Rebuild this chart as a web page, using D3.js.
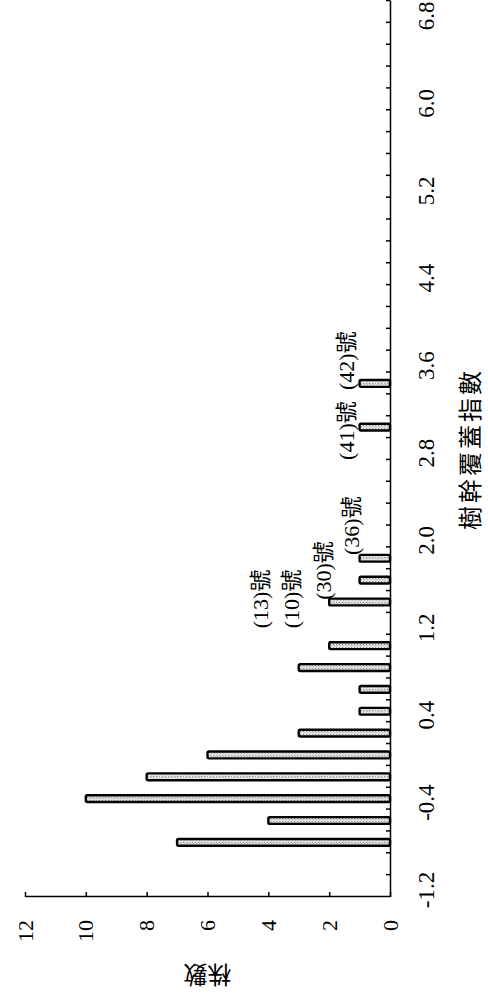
<!DOCTYPE html>
<html>
<head>
<meta charset="utf-8">
<script src="https://d3js.org/d3.v7.min.js"></script>
<style>
body, html {
    margin: 0;
    padding: 0;
    background: #fff;
}
svg { display: block; }
.axis path, .axis line {
  stroke: #000;
  stroke-width: 1.5;
}
.axis text {
  font-family: "Liberation Serif", serif;
  fill: #000;
}
.lab {
  font-family: "Liberation Serif", "Noto Sans CJK TC", serif;
  font-size: 22px;
}
.title {
  font-family: "Noto Sans CJK TC", sans-serif;
  font-size: 24px;
}
</style>
</head>
<body>
<div id="chart"></div>
<script>
// 樹幹覆蓋指數 bin centres and 株數 per bin
var bins   = [-0.8, -0.6, -0.4, -0.2, 0.0, 0.2, 0.4, 0.6, 0.8, 1.0, 1.4, 1.6, 1.8, 3.0, 3.4];
var counts = [7, 4, 10, 8, 6, 3, 1, 1, 3, 2, 2, 1, 1, 1, 1];
var xTicks = [-1.2, -0.4, 0.4, 1.2, 2.0, 2.8, 3.6, 4.4, 5.2, 6.0, 6.8];
var yTicks = [0, 2, 4, 6, 8, 10, 12];
// tree numbers written over the bars
var labelText = ["(13)號", "(10)號", "(30)號", "(36)號", "(41)號", "(42)號"];
var labelX    = [1.16, 1.16, 1.42, 1.83, 2.70, 3.34];
var labelY    = [4.0, 3.0, 1.94, 1.02, 1.18, 1.18];

var width = 488, height = 1000;

var svg = d3.select("#chart").append("svg")
    .attr("width", width)
    .attr("height", height);

svg.append("rect").attr("width", width).attr("height", height).attr("fill", "#fff");

// speckled grey fill of the bars
var pat = svg.append("defs").append("pattern")
    .attr("id", "speck")
    .attr("patternUnits", "userSpaceOnUse")
    .attr("width", 3).attr("height", 3);
pat.append("rect").attr("width", 3).attr("height", 3).attr("fill", "#e2e2e2");
pat.append("rect").attr("width", 1).attr("height", 1).attr("fill", "#8a8a8a");
pat.append("rect").attr("x", 2).attr("y", 1).attr("width", 1).attr("height", 1).attr("fill", "#b0b0b0");

// the whole chart is drawn upright and then turned a quarter turn
var g = svg.append("g").attr("transform", "translate(0,897) rotate(-90)");

var x = d3.scaleLinear().domain([-1.3, 6.9]).range([0, 896]);
var y = d3.scaleLinear().domain([0, 12]).range([390, 25]);

// minor ticks on bin edges
var minor = d3.range(-1.1, 6.95, 0.2);

g.append("g")
    .attr("class", "axis")
    .attr("transform", "translate(0,390)")
    .call(d3.axisBottom(x).tickValues(minor).tickSize(-4).tickSizeOuter(0).tickFormat(""));

var xl = g.append("g")
    .attr("class", "axis")
    .attr("transform", "translate(0,390)")
    .call(d3.axisBottom(x).tickValues(xTicks).tickSize(0).tickPadding(28)
      .tickFormat(function(d) { return d.toFixed(1); }));
xl.select(".domain").remove();
xl.selectAll("text").attr("font-size", 23).attr("dx", -4.5);

var yl = g.append("g")
    .attr("class", "axis")
    .call(d3.axisLeft(y).tickValues(yTicks).tickSize(-5).tickSizeOuter(0).tickPadding(23));
yl.selectAll("text").attr("font-size", 22);

g.selectAll("rect.bar")
    .data(bins)
    .join("rect")
    .attr("class", "bar")
    .attr("x", function(d) { return x(d) - 3.4; })
    .attr("width", 6.8)
    .attr("y", function(d, i) { return y(counts[i]); })
    .attr("height", function(d, i) { return y(0) - y(counts[i]); })
    .attr("rx", 1.5)
    .attr("fill", "url(#speck)")
    .attr("stroke", "#000")
    .attr("stroke-width", 2.4);

g.selectAll("text.lab")
    .data(labelText)
    .join("text")
    .attr("class", "lab")
    .attr("x", function(d, i) { return x(labelX[i]); })
    .attr("y", function(d, i) { return y(labelY[i]); })
    .text(function(d) { return d; });

// axis titles
g.append("text")
    .attr("class", "title")
    .attr("x", x(2.8))
    .attr("y", 479)
    .attr("text-anchor", "middle")
    .style("letter-spacing", "3px")
    .text("樹幹覆蓋指數");

g.append("text")
    .attr("class", "title")
    .attr("transform", "translate(-69," + y(6) + ") rotate(-90)")
    .attr("text-anchor", "middle")
    .text("株數");
</script>
</body>
</html>
